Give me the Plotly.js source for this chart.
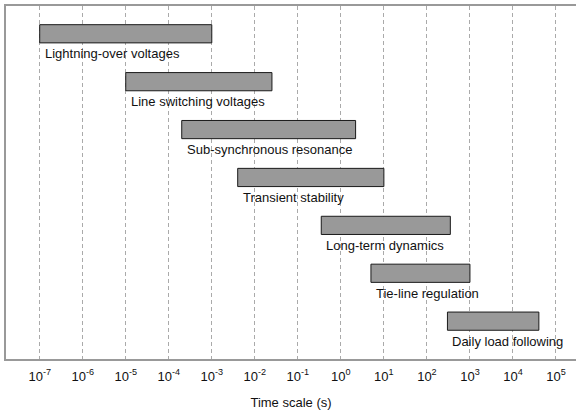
<!DOCTYPE html>
<html>
<head>
<meta charset="utf-8">
<script src="https://cdn.plot.ly/plotly-3.0.1.min.js"></script>
<style>html,body{margin:0;padding:0;background:#fff;}#chart{width:576px;height:414px;}</style>
</head>
<body>
<div id="chart"></div>
<script>
var phenomena = ["Lightning-over voltages", "Line switching voltages", "Sub-synchronous resonance",
  "Transient stability", "Long-term dynamics", "Tie-line regulation", "Daily load following"];
var startTimes = [1e-7, 1e-5, 2e-4, 4e-3, 0.35, 5, 300];
var endTimes = [1e-3, 0.025, 2.2, 10, 350, 1000, 40000];
var tickValues = [1e-7, 1e-6, 1e-5, 1e-4, 1e-3, 1e-2, 1e-1, 1e0, 1e1, 1e2, 1e3, 1e4, 1e5];
var tickLabels = ["10<sup>-7</sup>", "10<sup>-6</sup>", "10<sup>-5</sup>", "10<sup>-4</sup>", "10<sup>-3</sup>",
  "10<sup>-2</sup>", "10<sup>-1</sup>", "10<sup>0</sup>", "10<sup>1</sup>", "10<sup>2</sup>",
  "10<sup>3</sup>", "10<sup>4</sup>", "10<sup>5</sup>"];
var rows = phenomena.map(function(_, i){ return i; });

var trace = {
  type: 'bar', orientation: 'h',
  y: rows,
  base: startTimes,
  x: endTimes.map(function(e, i){ return e - startTimes[i]; }),
  width: 0.38,
  marker: {color: '#999999', line: {color: '#1a1a1a', width: 1}},
  hoverinfo: 'skip'
};

var annotations = phenomena.map(function(name, i){
  return {
    x: Math.log10(startTimes[i]), y: rows[i], xref: 'x', yref: 'y',
    text: name, showarrow: false, xanchor: 'left', yanchor: 'middle',
    xshift: 3, yshift: -20,
    font: {family: 'Liberation Sans, Arial, sans-serif', size: 13, color: '#111'}
  };
});

var layout = {
  width: 576, height: 414,
  margin: {l: 6, r: 0, t: 6, b: 55},
  paper_bgcolor: '#fff', plot_bgcolor: '#fff',
  showlegend: false,
  font: {family: 'Liberation Sans, Arial, sans-serif', size: 13, color: '#111'},
  xaxis: {
    type: 'log', range: [-7.783, 5.465],
    tickmode: 'array', tickvals: tickValues, ticktext: tickLabels,
    ticks: '', ticklabelstandoff: 4,
    showgrid: true, gridcolor: '#aaaaaa', gridwidth: 1, griddash: '4px,3px',
    showline: true, mirror: true, linecolor: '#999999', linewidth: 2,
    zeroline: false,
    tickfont: {size: 13, color: '#111'},
    title: {text: 'Time scale (s)', font: {size: 13, color: '#111'}, standoff: 15}
  },
  yaxis: {
    range: [6.79, -0.58],
    showticklabels: false, ticks: '', showgrid: false, zeroline: false,
    showline: true, linecolor: '#999999', linewidth: 2
  },
  annotations: annotations
};

Plotly.newPlot('chart', [trace], layout, {displayModeBar: false, staticPlot: true});
</script>
</body>
</html>
